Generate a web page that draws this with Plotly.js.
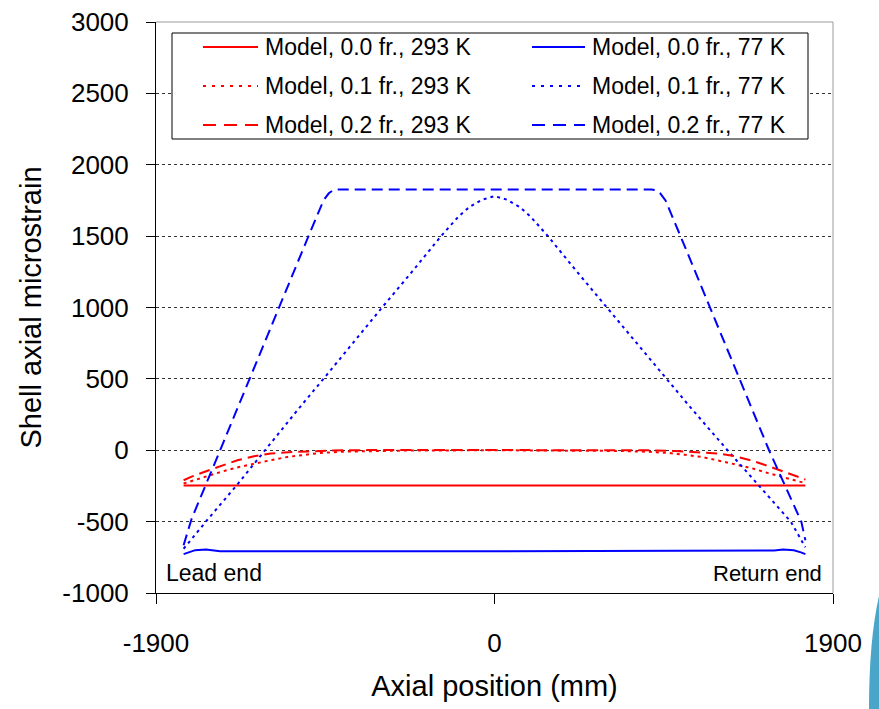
<!DOCTYPE html>
<html>
<head>
<meta charset="utf-8">
<script src="https://cdn.plot.ly/plotly-3.0.1.min.js"></script>
<style>html,body{margin:0;padding:0;background:#fff;}#chart{width:879px;height:709px;}</style>
</head>
<body>
<div id="chart"></div>
<script>
// ---- data ----
const seriesNames = [
  "Model, 0.0 fr., 293 K", "Model, 0.0 fr., 77 K",
  "Model, 0.1 fr., 293 K", "Model, 0.1 fr., 77 K",
  "Model, 0.2 fr., 293 K", "Model, 0.2 fr., 77 K"
];

// 0.0 fr., 293 K
const xRed00 = [-1745, 0, 1745];
const yRed00 = [-247, -247, -247];

// 0.0 fr., 77 K
const xBlue00 = [-1745, -1720, -1680, -1620, -1570, -1540, 0, 1540, 1570, 1620, 1680, 1720, 1745];
const yBlue00 = [-728, -715, -700, -695, -702, -707, -707, -707, -702, -695, -700, -715, -728];

// 0.1 fr., 293 K
const xRed01 = [-1745, -1650, -1536, -1450, -1350, -1250, -1163, -1070, -977, -850, -697, -500, 0,
                500, 697, 850, 977, 1070, 1163, 1250, 1350, 1450, 1536, 1650, 1745];
const yRed01 = [-233, -195, -152, -122, -93, -68, -47, -32, -19, -10, -5, -2, 0,
                -2, -5, -10, -19, -32, -47, -70, -97, -128, -160, -200, -231];

// 0.1 fr., 77 K
const xBlue01 = [-1745, -1700, -1600, -1450, -1290, -1100, -960, -800, -631, -450, -300, -200, -140, -70, 0,
                 70, 140, 200, 300, 450, 631, 800, 960, 1100, 1308, 1450, 1663, 1745];
const yBlue01 = [-690, -620, -470, -250, 0, 290, 500, 745, 1000, 1270, 1500, 1640, 1705, 1755, 1780,
                 1755, 1705, 1640, 1500, 1270, 1000, 750, 510, 300, 0, -200, -500, -680];

// 0.2 fr., 293 K
const xRed02 = [-1745, -1700, -1630, -1540, -1443, -1350, -1256, -1130, -1014, -850, -600, 0,
                600, 850, 1014, 1130, 1256, 1350, 1443, 1540, 1630, 1700, 1745];
const yRed02 = [-210, -185, -152, -110, -70, -42, -23, -12, -5, 0, 2, 3,
                2, 0, -5, -12, -23, -42, -72, -112, -152, -182, -205];

// 0.2 fr., 77 K
const xBlue02 = [-1745, -1700, -1540, -1400, -1210, -1044, -960, -930, -905, -880,
                 880, 905, 930, 960, 1044, 1210, 1400, 1541, 1722, 1745];
const yBlue02 = [-665, -480, 0, 427, 1000, 1500, 1750, 1800, 1822, 1826,
                 1826, 1822, 1800, 1750, 1500, 1000, 420, 0, -500, -630];

const yTicks = [-1000, -500, 0, 500, 1000, 1500, 2000, 2500, 3000];
const yTickText = ["-1000", "-500", "0", "500", "1000", "1500", "2000", "2500", "3000"];
const xTicks = [-1900, 0, 1900];
const xTickText = ["-1900", "0", "1900"];
const endLabels = ["Lead end", "Return end"];

// ---- styles ----
const RED = "#ff0000", BLUE = "#0000ff";
const SOLID = "solid", DOT = "3px,4px", DASH = "11px,6px";
const styles = [
  {color: RED, dash: SOLID}, {color: BLUE, dash: SOLID},
  {color: RED, dash: DOT},   {color: BLUE, dash: DOT},
  {color: RED, dash: DASH},  {color: BLUE, dash: DASH}
];
const xs = [xRed00, xBlue00, xRed01, xBlue01, xRed02, xBlue02];
const ys = [yRed00, yBlue00, yRed01, yBlue01, yRed02, yBlue02];

const traces = xs.map((x, i) => ({
  type: "scatter", mode: "lines", x: x, y: ys[i], name: seriesNames[i],
  line: {color: styles[i].color, dash: styles[i].dash, width: 2},
  showlegend: false, hoverinfo: "skip"
}));

// ---- geometry ----
const W = 879, H = 709, L = 156, R = 833, T = 22, B = 593;
const px = v => (v - L) / (R - L);
const py = v => (B - v) / (B - T);
const FONT = "Arial, 'Liberation Sans', sans-serif";

const shapes = [
  {type: "line", xref: "paper", yref: "paper", x0: 0, x1: 1, y0: 1, y1: 1, line: {color: "#9a9a9a", width: 1}},
  {type: "line", xref: "paper", yref: "paper", x0: 1, x1: 1, y0: 0, y1: 1, line: {color: "#9a9a9a", width: 1}},
  {type: "rect", xref: "paper", yref: "paper", x0: px(172), x1: px(808), y0: py(139), y1: py(33),
   line: {color: "#000", width: 1}, fillcolor: "#fff", layer: "above"},
  {type: "path", xref: "paper", yref: "paper",
   path: `M ${px(879)} ${py(596)} Q ${px(869)} ${py(640)} ${px(869)} ${py(709)} L ${px(879)} ${py(709)} Z`,
   fillcolor: "#4aa6c9", line: {width: 0}}
];
const annotations = [];
const rowY = [47, 86, 125];
const colLine = [[203, 258], [532, 585]];
const colText = [263, 590];
seriesNames.forEach((nm, i) => {
  const r = Math.floor(i / 2), c = i % 2;
  shapes.push({type: "line", xref: "paper", yref: "paper", layer: "above",
    x0: px(colLine[c][0]), x1: px(colLine[c][1]), y0: py(rowY[r]), y1: py(rowY[r]),
    line: {color: styles[i].color, width: 2, dash: styles[i].dash === DASH ? "13px,8px" : (styles[i].dash === DOT ? "3px,6px" : "solid")}});
  annotations.push({xref: "paper", yref: "paper", x: px(colText[c]), y: py(rowY[r]),
    xanchor: "left", yanchor: "middle", showarrow: false, text: nm,
    font: {family: FONT, size: 23, color: "#000"}});
});
annotations.push({xref: "paper", yref: "paper", x: px(164), y: py(573), xanchor: "left", yanchor: "middle",
  showarrow: false, text: endLabels[0], font: {family: FONT, size: 23, color: "#000"}});
annotations.push({xref: "paper", yref: "paper", x: px(824), y: py(573), xanchor: "right", yanchor: "middle",
  showarrow: false, text: endLabels[1], font: {family: FONT, size: 22, color: "#000"}});

const layout = {
  width: W, height: H,
  margin: {l: L, r: W - R, t: T, b: H - B, pad: 0},
  paper_bgcolor: "#fff", plot_bgcolor: "#fff",
  font: {family: FONT, color: "#000"},
  showlegend: false,
  xaxis: {
    range: [-1900, 1900], tickvals: xTicks, ticktext: xTickText,
    ticks: "outside", ticklen: 10, tickcolor: "#000", tickwidth: 1,
    showline: true, linecolor: "#000", linewidth: 1, mirror: false,
    showgrid: false, zeroline: false, ticklabelstandoff: 17,
    tickfont: {family: FONT, size: 26, color: "#000"},
    title: {text: "Axial position (mm)", font: {family: FONT, size: 29, color: "#000"}, standoff: 18},
    automargin: false
  },
  yaxis: {
    range: [-1000, 3000], tickvals: yTicks, ticktext: yTickText,
    ticks: "outside", ticklen: 9, tickcolor: "#000", tickwidth: 1,
    showline: true, linecolor: "#000", linewidth: 1, mirror: false,
    showgrid: true, gridcolor: "#333", gridwidth: 1, griddash: "3px,3px",
    zeroline: false, ticklabelstandoff: 12,
    tickfont: {family: FONT, size: 26, color: "#000"},
    title: {text: "Shell axial microstrain", font: {family: FONT, size: 29, color: "#000"}, standoff: 12},
    automargin: false
  },
  shapes: shapes,
  annotations: annotations
};

Plotly.newPlot("chart", traces, layout, {staticPlot: true, displayModeBar: false});
</script>
</body>
</html>
